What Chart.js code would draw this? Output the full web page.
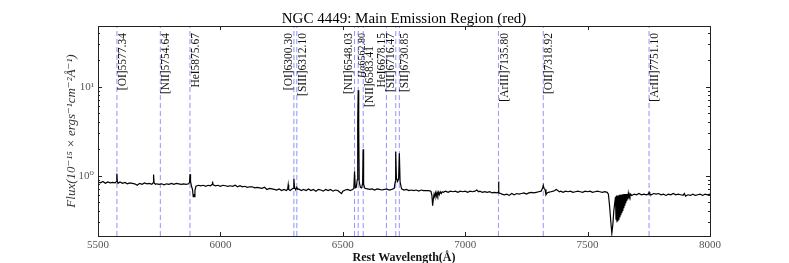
<!DOCTYPE html>
<html>
<head>
<meta charset="utf-8">
<script src="https://cdn.jsdelivr.net/npm/chart.js@4.4.1/dist/chart.umd.min.js"></script>
<style>
  html, body { margin: 0; padding: 0; background: #fff; }
  #wrap { width: 789px; height: 263px; }
</style>
</head>
<body>
<div id="wrap"><canvas id="spec" width="789" height="263"></canvas></div>
<script>
// Spectrum (rest wavelength in Angstrom, flux in 1e-15 erg/s/cm2/A)
const wavelength = [
  5500, 5510, 5520, 5530, 5540, 5550, 5560, 5570, 5575, 5577, 5579, 5582, 5590, 5600, 5610, 5620,
  5630, 5640, 5650, 5660, 5670, 5680, 5690, 5700, 5710, 5720, 5725, 5727, 5729, 5735, 5740, 5750,
  5760, 5770, 5780, 5790, 5800, 5810, 5820, 5830, 5840, 5850, 5860, 5870, 5874, 5876, 5878, 5882,
  5886, 5889, 5891, 5893, 5896, 5900, 5910, 5920, 5930, 5940, 5950, 5960, 5966, 5968, 5970, 5980,
  5990, 6000, 6010, 6020, 6030, 6040, 6050, 6060, 6070, 6080, 6090, 6100, 6110, 6120, 6130, 6140,
  6150, 6160, 6170, 6180, 6190, 6200, 6210, 6220, 6230, 6240, 6250, 6260, 6270, 6275, 6277, 6279,
  6285, 6290, 6297, 6300, 6303, 6308, 6312, 6316, 6320, 6330, 6340, 6350, 6360, 6370, 6380, 6390,
  6400, 6410, 6420, 6430, 6440, 6450, 6460, 6470, 6480, 6488, 6495, 6500, 6510, 6520, 6530, 6540,
  6545, 6548, 6551, 6555, 6559, 6561, 6563, 6565, 6567, 6572, 6577, 6581, 6583, 6585, 6590, 6600,
  6610, 6620, 6630, 6640, 6650, 6660, 6670, 6678, 6690, 6700, 6710, 6714, 6716, 6719, 6724, 6728,
  6731, 6734, 6740, 6750, 6760, 6770, 6780, 6790, 6800, 6810, 6820, 6830, 6840, 6850, 6860, 6864,
  6867, 6870, 6873, 6876, 6879, 6882, 6885, 6888, 6891, 6894, 6898, 6902, 6906, 6910, 6920, 6930,
  6940, 6950, 6960, 6970, 6980, 6990, 7000, 7010, 7020, 7030, 7040, 7047, 7055, 7060, 7070, 7080,
  7090, 7100, 7110, 7120, 7130, 7134, 7136, 7138, 7145, 7150, 7160, 7170, 7180, 7190, 7200, 7210,
  7220, 7230, 7240, 7250, 7260, 7270, 7280, 7290, 7300, 7310, 7316, 7319, 7322, 7326, 7330, 7335,
  7340, 7350, 7360, 7366, 7372, 7378, 7385, 7390, 7400, 7410, 7420, 7430, 7440, 7450, 7460, 7470,
  7480, 7490, 7500, 7510, 7520, 7530, 7540, 7550, 7560, 7570, 7580, 7585, 7590, 7595, 7599, 7603,
  7607, 7611, 7614, 7616, 7618, 7620, 7622, 7624, 7626, 7628, 7630, 7632, 7634, 7636, 7638, 7640,
  7642, 7644, 7646, 7648, 7650, 7652, 7654, 7656, 7658, 7660, 7662, 7664, 7666, 7668, 7670, 7673,
  7676, 7680, 7690, 7700, 7710, 7720, 7730, 7740, 7748, 7751, 7754, 7760, 7770, 7780, 7790, 7800,
  7810, 7820, 7830, 7840, 7850, 7860, 7870, 7880, 7890, 7895, 7900, 7910, 7920, 7930, 7940, 7950,
  7960, 7970, 7980, 7990, 8000
];
const flux = [
  0.85, 0.83, 0.86, 0.82, 0.85, 0.83, 0.84, 0.83, 0.86, 1.06, 0.86, 0.82, 0.85, 0.82, 0.84, 0.81,
  0.83, 0.82, 0.81, 0.78, 0.82, 0.80, 0.83, 0.81, 0.82, 0.80, 0.83, 1.03, 0.83, 0.80, 0.81, 0.80,
  0.81, 0.79, 0.81, 0.80, 0.82, 0.80, 0.82, 0.81, 0.80, 0.81, 0.80, 0.81, 0.84, 1.04, 0.86, 0.76,
  0.70, 0.58, 0.62, 0.58, 0.68, 0.76, 0.78, 0.77, 0.78, 0.76, 0.78, 0.77, 0.80, 0.86, 0.79, 0.77,
  0.78, 0.76, 0.78, 0.77, 0.76, 0.77, 0.76, 0.78, 0.75, 0.77, 0.75, 0.76, 0.74, 0.75, 0.75, 0.73,
  0.74, 0.73, 0.72, 0.74, 0.70, 0.72, 0.71, 0.70, 0.69, 0.71, 0.68, 0.70, 0.68, 0.71, 0.79, 0.70,
  0.68, 0.70, 0.72, 0.92, 0.74, 0.69, 0.74, 0.70, 0.71, 0.68, 0.70, 0.68, 0.71, 0.68, 0.70, 0.67,
  0.70, 0.69, 0.67, 0.70, 0.68, 0.70, 0.67, 0.69, 0.68, 0.65, 0.63, 0.67, 0.69, 0.70, 0.68, 0.70,
  0.72, 1.11, 0.73, 0.74, 0.90, 4.00, 9.10, 3.50, 0.85, 0.74, 0.73, 0.82, 1.98, 0.80, 0.72, 0.71,
  0.70, 0.71, 0.69, 0.71, 0.70, 0.69, 0.70, 0.71, 0.69, 0.70, 0.72, 0.85, 1.86, 0.95, 0.86, 0.92,
  1.79, 0.85, 0.71, 0.69, 0.70, 0.68, 0.69, 0.68, 0.69, 0.67, 0.69, 0.68, 0.68, 0.68, 0.67, 0.60,
  0.46, 0.55, 0.62, 0.58, 0.64, 0.59, 0.65, 0.60, 0.65, 0.61, 0.66, 0.63, 0.66, 0.65, 0.67, 0.65,
  0.67, 0.66, 0.67, 0.65, 0.67, 0.66, 0.67, 0.65, 0.67, 0.66, 0.67, 0.69, 0.66, 0.67, 0.65, 0.66,
  0.65, 0.66, 0.64, 0.65, 0.64, 0.65, 0.86, 0.64, 0.63, 0.62, 0.61, 0.62, 0.60, 0.63, 0.61, 0.63,
  0.62, 0.63, 0.64, 0.62, 0.64, 0.65, 0.64, 0.65, 0.66, 0.67, 0.72, 0.78, 0.72, 0.70, 0.61, 0.64,
  0.65, 0.66, 0.67, 0.68, 0.70, 0.68, 0.66, 0.67, 0.65, 0.67, 0.66, 0.67, 0.65, 0.66, 0.67, 0.66,
  0.65, 0.67, 0.66, 0.67, 0.65, 0.66, 0.67, 0.66, 0.65, 0.66, 0.65, 0.62, 0.45, 0.30, 0.225, 0.28,
  0.40, 0.50, 0.58, 0.32, 0.60, 0.30, 0.60, 0.31, 0.60, 0.32, 0.61, 0.34, 0.61, 0.36, 0.61, 0.38,
  0.62, 0.40, 0.62, 0.43, 0.62, 0.46, 0.62, 0.49, 0.62, 0.52, 0.62, 0.54, 0.62, 0.56, 0.62, 0.58,
  0.62, 0.60, 0.62, 0.61, 0.63, 0.61, 0.62, 0.61, 0.62, 0.65, 0.62, 0.61, 0.63, 0.62, 0.63, 0.61,
  0.62, 0.60, 0.62, 0.61, 0.63, 0.61, 0.62, 0.61, 0.60, 0.63, 0.59, 0.61, 0.60, 0.62, 0.60, 0.61,
  0.62, 0.60, 0.62, 0.61, 0.62
];

// Emission lines marked on the plot
const lineNames = [
  '[OI]5577.34', '[NII]5754.64', 'HeI5875.67', '[OI]6300.30', '[SIII]6312.10',
  '[NII]6548.03', 'Hα6562.80', '[NII]6583.41', 'HeI6678.15', '[SII]6716.47',
  '[SII]6730.85', '[ArIII]7135.80', '[OII]7318.92', '[ArIII]7751.10'
];
const lineWaves = [
  5577.34, 5754.64, 5875.67, 6300.30, 6312.10,
  6548.03, 6562.80, 6583.41, 6678.15, 6716.47,
  6730.85, 7135.80, 7318.92, 7751.10
];

const xTicks = [5500, 6000, 6500, 7000, 7500, 8000];
const yTicks = [1, 10];
const yTickLabels = ['10⁰', '10¹'];

const X_MIN = 5500, X_MAX = 8000;
const Y_MIN = 0.21, Y_MAX = 48;

const SERIF = "'Liberation Serif', 'DejaVu Serif', serif";
const LABEL_PX = 11.5;

const spectrum = wavelength.map((w, i) => ({ x: w, y: flux[i] }));

const markerSets = lineWaves.map(w => ({
    data: [{ x: w, y: Y_MIN }, { x: w, y: Y_MAX }],
    borderColor: 'rgba(110, 110, 255, 0.75)',
    borderWidth: 1,
    borderDash: [5, 3],
    pointRadius: 0,
    order: 2
}));

// label placement tweaks: which side of the dashed line, gap, drop, size
const leftSide = ['[OI]6300.30', '[NII]6548.03', 'HeI6678.15', '[SII]6716.47'];
const lowered = { '[NII]6583.41': 13 };
const labelGap = { '[NII]6548.03': 2.5, 'Hα6562.80': 0.3, '[NII]6583.41': 2.3 };
const labelSize = { 'Hα6562.80': 10 };

const decor = {
    id: 'decor',
    afterDraw(chart) {
        const ctx = chart.ctx;
        const area = chart.chartArea;
        const xs = chart.scales.x;
        const ys = chart.scales.y;

        ctx.save();

        // frame
        ctx.strokeStyle = '#222';
        ctx.lineWidth = 1;
        ctx.strokeRect(Math.round(area.left) + 0.5, Math.round(area.top) + 0.5,
            Math.round(area.right - area.left), Math.round(area.bottom - area.top));

        // inward ticks, matplotlib classic style
        ctx.beginPath();
        xTicks.forEach(v => {
            const px = Math.round(xs.getPixelForValue(v)) + 0.5;
            ctx.moveTo(px, area.bottom); ctx.lineTo(px, area.bottom - 4);
            ctx.moveTo(px, area.top); ctx.lineTo(px, area.top + 4);
        });
        [0.1, 1, 10].forEach(dec => {
            for (let k = 1; k <= 9; k++) {
                const v = k * dec;
                if (v < Y_MIN || v > Y_MAX) continue;
                const len = k === 1 ? 4 : 2;
                const py = Math.round(ys.getPixelForValue(v)) + 0.5;
                ctx.moveTo(area.left, py); ctx.lineTo(area.left + len, py);
                ctx.moveTo(area.right, py); ctx.lineTo(area.right - len, py);
            }
        });
        ctx.stroke();

        // title
        ctx.fillStyle = '#000';
        ctx.font = '15px ' + SERIF;
        ctx.textAlign = 'center';
        ctx.textBaseline = 'alphabetic';
        ctx.fillText('NGC 4449: Main Emission Region (red)', (area.left + area.right) / 2, 23);

        // rotated line labels; glyphs grow to the screen-left of the baseline
        ctx.fillStyle = '#111';
        lineNames.forEach((name, i) => {
            const size = labelSize[name] || LABEL_PX;
            const capH = size * 0.66;
            const gap = labelGap[name] !== undefined ? labelGap[name] : 1.5;
            const px = xs.getPixelForValue(lineWaves[i]);
            const top = 33 + (lowered[name] || 0);
            const onLeft = leftSide.includes(name);
            const base = onLeft ? px - gap : px + gap + capH;
            ctx.save();
            ctx.translate(base, top);
            ctx.rotate(-Math.PI / 2);
            ctx.textBaseline = 'alphabetic';
            ctx.textAlign = 'left';
            let parts = [[name, false]];
            if (name.startsWith('Hα')) parts = [['Hα', true], [name.slice(2), false]];
            let total = 0;
            parts.forEach(p => {
                ctx.font = (p[1] ? 'italic ' : '') + size + 'px ' + SERIF;
                total += ctx.measureText(p[0]).width;
            });
            let pos = -total;
            parts.forEach(p => {
                ctx.font = (p[1] ? 'italic ' : '') + size + 'px ' + SERIF;
                ctx.fillText(p[0], pos, 0);
                pos += ctx.measureText(p[0]).width;
            });
            ctx.restore();
        });

        ctx.restore();
    }
};

new Chart(document.getElementById('spec'), {
    type: 'line',
    data: {
        datasets: [{
            data: spectrum,
            borderColor: '#000',
            borderWidth: 1.2,
            pointRadius: 0,
            tension: 0,
            order: 1
        }].concat(markerSets)
    },
    options: {
        responsive: false,
        animation: false,
        layout: { padding: { left: 0, right: 79, top: 26, bottom: 0 } },
        plugins: {
            legend: { display: false },
            tooltip: { enabled: false },
            title: { display: false }
        },
        scales: {
            x: {
                type: 'linear',
                min: X_MIN,
                max: X_MAX,
                grid: { display: false, drawTicks: false },
                border: { display: false },
                afterBuildTicks: s => { s.ticks = xTicks.map(v => ({ value: v })); },
                afterFit: s => { s.height = 27; },
                ticks: {
                    padding: 3,
                    color: '#555',
                    font: { family: SERIF, size: 11 },
                    maxRotation: 0,
                    callback: v => String(v)
                },
                title: {
                    display: true,
                    text: 'Rest Wavelength(Å)',
                    color: '#111',
                    font: { family: SERIF, size: 12, weight: 'bold' },
                    padding: { top: 0, bottom: -2 }
                }
            },
            y: {
                type: 'logarithmic',
                min: Y_MIN,
                max: Y_MAX,
                grid: { display: false, drawTicks: false },
                border: { display: false },
                afterBuildTicks: s => { s.ticks = yTicks.map(v => ({ value: v })); },
                afterFit: s => { s.width = 98; },
                ticks: {
                    padding: 4,
                    color: '#555',
                    font: { family: SERIF, size: 11 },
                    callback: v => yTickLabels[yTicks.indexOf(v)] || ''
                },
                title: {
                    display: true,
                    text: 'Flux(10⁻¹⁵ × ergs⁻¹cm⁻²Å⁻¹)',
                    color: '#333',
                    font: { family: SERIF, size: 13, style: 'italic' },
                    padding: { top: 64, bottom: 0 }
                }
            }
        }
    },
    plugins: [decor]
});
</script>
</body>
</html>
